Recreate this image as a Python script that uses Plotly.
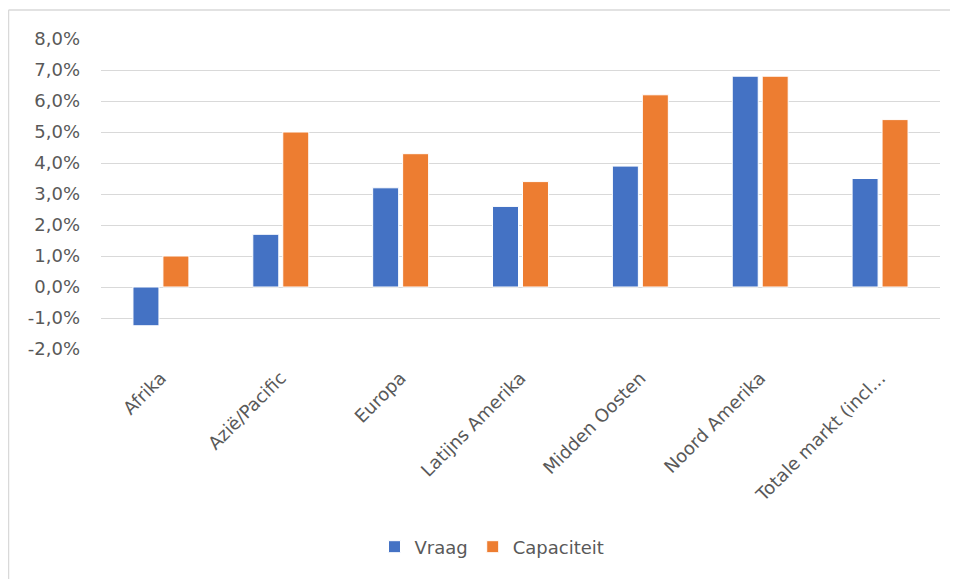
import plotly.graph_objects as go

categories = ["Afrika", "Azië/Pacific", "Europa", "Latijns Amerika",
              "Midden Oosten", "Noord Amerika", "Totale markt (incl..."]
vraag = [-1.25, 1.7, 3.2, 2.6, 3.9, 6.8, 3.5]
capaciteit = [1.0, 5.0, 4.3, 3.4, 6.2, 6.8, 5.4]
y_tickvals = [-2, -1, 0, 1, 2, 3, 4, 5, 6, 7, 8]
y_ticktext = ["-2,0%", "-1,0%", "0,0%", "1,0%", "2,0%", "3,0%",
              "4,0%", "5,0%", "6,0%", "7,0%", "8,0%"]

# the page body adds an 8px offset; figure sized to fit the window
OFF = 8
W, H = 958 - OFF, 579 - OFF
L, R, T, B = 101 - OFF, 18, 39 - OFF, 230
PW, PH = W - L - R, H - T - B

fig = go.Figure()
fig.add_bar(x=categories, y=vraag, name="Vraag",
            marker=dict(color="#4472C4", line=dict(color="white", width=1)))
fig.add_bar(x=categories, y=capaciteit, name="Capaciteit",
            marker=dict(color="#ED7D31", line=dict(color="white", width=1)))

font = dict(family="DejaVu Sans, sans-serif", size=18, color="#595959")

fig.update_layout(
    width=W, height=H,
    margin=dict(l=L, r=R, t=T, b=B, pad=0),
    paper_bgcolor="white", plot_bgcolor="white",
    barmode="group", bargap=0.5, bargroupgap=0.133,
    font=font,
    showlegend=True,
    legend=dict(orientation="h", x=(492 - 101) / PW, xanchor="center",
                y=-(547 - 349) / PH, yanchor="middle", font=font,
                itemwidth=30, traceorder="normal"),
    xaxis=dict(tickangle=-45, showgrid=False, showline=False, ticks="",
               ticklabelstandoff=14, tickfont=font),
    yaxis=dict(range=[-2, 8], tickvals=y_tickvals, ticktext=y_ticktext,
               showgrid=True, gridcolor="#D9D9D9", gridwidth=1,
               zeroline=True, zerolinecolor="#D9D9D9", zerolinewidth=1,
               showline=False, ticks="", ticklabelstandoff=20, tickfont=font),
)

# outer chart border (partially visible in the crop)
bx = (0.5 - L) / PW
by = (H - B - 2) / PH
fig.add_shape(type="line", xref="paper", yref="paper",
              x0=bx, x1=bx, y0=by, y1=-(B + 10) / PH,
              line=dict(color="#D9D9D9", width=1.5))
fig.add_shape(type="line", xref="paper", yref="paper",
              x0=bx, x1=(W + 10 - L) / PW, y0=by, y1=by,
              line=dict(color="#D9D9D9", width=1.5))

fig.write_html("out.html")
